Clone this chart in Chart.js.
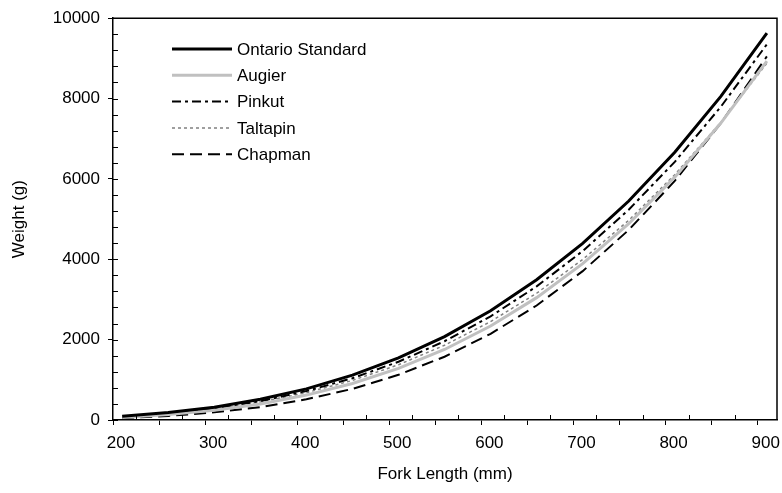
<!DOCTYPE html>
<html>
<head>
<meta charset="utf-8">
<script src="https://cdn.jsdelivr.net/npm/chart.js@4.4.0/dist/chart.umd.min.js"></script>
<style>
  html, body { margin: 0; padding: 0; background: #fff; }
  #wrap { width: 782px; height: 493px; }
</style>
</head>
<body>
<div id="wrap"><canvas id="grafico"></canvas></div>
<script>
// fork length (mm) and weight (g)
const forkLength = [210, 260, 310, 360, 410, 460, 510, 560, 610, 660, 710, 760, 810, 860, 910];
const ontario  = [95, 185, 320, 515, 775, 1115, 1545, 2075, 2720, 3490, 4395, 5450, 6665, 8055, 9630];
const augier   = [65, 135, 240, 400, 620, 910, 1285, 1755, 2340, 3045, 3890, 4885, 6045, 7390, 8930];
const pinkut   = [85, 165, 290, 470, 720, 1040, 1450, 1960, 2580, 3325, 4205, 5235, 6425, 7795, 9350];
const taltapin = [80, 155, 275, 450, 680, 985, 1375, 1860, 2450, 3155, 3995, 4970, 6105, 7405, 8880];
const chapman  = [45, 100, 190, 320, 515, 775, 1125, 1575, 2145, 2850, 3705, 4730, 5950, 7385, 9050];

const seriesNames = ['Ontario Standard', 'Augier', 'Pinkut', 'Taltapin', 'Chapman'];
const xTicks = [200, 300, 400, 500, 600, 700, 800, 900];
const yTicks = [0, 2000, 4000, 6000, 8000, 10000];

const FONT = "'Liberation Sans', Arial, sans-serif";

function pts(arr) {
  return forkLength.map((l, i) => ({ x: l, y: arr[i] }));
}

// frame on top/right + the small inner ticks
const moldura = {
  id: 'moldura',
  afterDatasetsDraw(chart) {
    const ctx = chart.ctx;
    const a = chart.chartArea;
    const sx = chart.scales.x, sy = chart.scales.y;
    ctx.save();
    ctx.strokeStyle = '#000';
    ctx.lineWidth = 1.5;
    ctx.beginPath();
    ctx.moveTo(a.left, a.top);
    ctx.lineTo(a.right, a.top);
    ctx.lineTo(a.right, a.bottom);
    ctx.stroke();

    ctx.lineWidth = 1;
    ctx.beginPath();
    for (let v = 0; v <= 10000; v += 400) {
      const y = Math.round(sy.getPixelForValue(v)) + 0.5;
      ctx.moveTo(a.left, y);
      ctx.lineTo(a.left + 5, y);
    }
    for (let v = 225; v < 900; v += 50) {
      const x = Math.round(sx.getPixelForValue(v)) + 0.5;
      ctx.moveTo(x, a.bottom);
      ctx.lineTo(x, a.bottom - 5);
    }
    ctx.stroke();
    ctx.restore();
  }
};

// legend drawn inside the plot
const legenda = {
  id: 'legenda',
  afterDraw(chart) {
    const ctx = chart.ctx;
    const x0 = 172, x1 = 232, y0 = 49, dy = 26.3;
    ctx.save();
    chart.data.datasets.forEach((ds, i) => {
      const y = y0 + i * dy;
      ctx.beginPath();
      ctx.setLineDash(ds.borderDash || []);
      ctx.strokeStyle = ds.borderColor;
      ctx.lineWidth = ds.borderWidth;
      ctx.moveTo(x0, y);
      ctx.lineTo(x1, y);
      ctx.stroke();
      ctx.setLineDash([]);
      ctx.fillStyle = '#000';
      ctx.font = '17px ' + FONT;
      ctx.textBaseline = 'middle';
      ctx.textAlign = 'left';
      ctx.fillText(ds.label, x1 + 5, y + 1);
    });
    ctx.restore();
  }
};

const ctxG = document.getElementById('grafico').getContext('2d');
const grafico = new Chart(ctxG, {
  type: 'line',
  data: {
    datasets: [
      { label: seriesNames[0], data: pts(ontario),  borderColor: '#000000', borderWidth: 3 },
      { label: seriesNames[1], data: pts(augier),   borderColor: '#c0c0c0', borderWidth: 3 },
      { label: seriesNames[2], data: pts(pinkut),   borderColor: '#000000', borderWidth: 2, borderDash: [9, 4, 3, 4] },
      { label: seriesNames[3], data: pts(taltapin), borderColor: '#808080', borderWidth: 1.5, borderDash: [3, 3] },
      { label: seriesNames[4], data: pts(chapman),  borderColor: '#000000', borderWidth: 2, borderDash: [12, 6] }
    ]
  },
  options: {
    responsive: true,
    maintainAspectRatio: false,
    animation: false,
    layout: { padding: { top: 18, right: 5, left: 0, bottom: 0 } },
    elements: {
      point: { radius: 0 },
      line: { tension: 0, fill: false, borderCapStyle: 'butt' }
    },
    plugins: {
      legend: { display: false },
      tooltip: { enabled: false }
    },
    scales: {
      x: {
        type: 'linear',
        min: 200,
        max: 921,
        afterFit: (s) => { s.height = 73; },
        afterBuildTicks: (s) => {
          const t = [];
          for (let v = 200; v <= 900; v += 50) t.push({ value: v });
          s.ticks = t;
        },
        ticks: {
          autoSkip: false,
          maxRotation: 0,
          padding: 8,
          labelOffset: 8,
          color: '#000',
          font: { family: FONT, size: 17 },
          callback: (v) => xTicks.includes(v) ? String(v) : ''
        },
        grid: { drawOnChartArea: false, drawTicks: true, tickLength: 5, color: '#000', tickColor: '#000' },
        border: { display: true, color: '#000', width: 1.5 },
        title: {
          display: true,
          text: 'Fork Length (mm)',
          color: '#000',
          font: { family: FONT, size: 17 },
          padding: { top: 4, bottom: 8 }
        }
      },
      y: {
        min: 0,
        max: 10000,
        afterFit: (s) => { s.width = 113; },
        afterBuildTicks: (s) => { s.ticks = yTicks.map(v => ({ value: v })); },
        ticks: {
          padding: 8,
          color: '#000',
          font: { family: FONT, size: 17 },
          callback: (v) => String(v)
        },
        grid: { drawOnChartArea: false, drawTicks: true, tickLength: 5, color: '#000', tickColor: '#000' },
        border: { display: true, color: '#000', width: 1.5 },
        title: {
          display: true,
          text: 'Weight (g)',
          color: '#000',
          font: { family: FONT, size: 17 },
          padding: { top: 9, bottom: 0 }
        }
      }
    }
  },
  plugins: [moldura, legenda]
});
</script>
</body>
</html>
